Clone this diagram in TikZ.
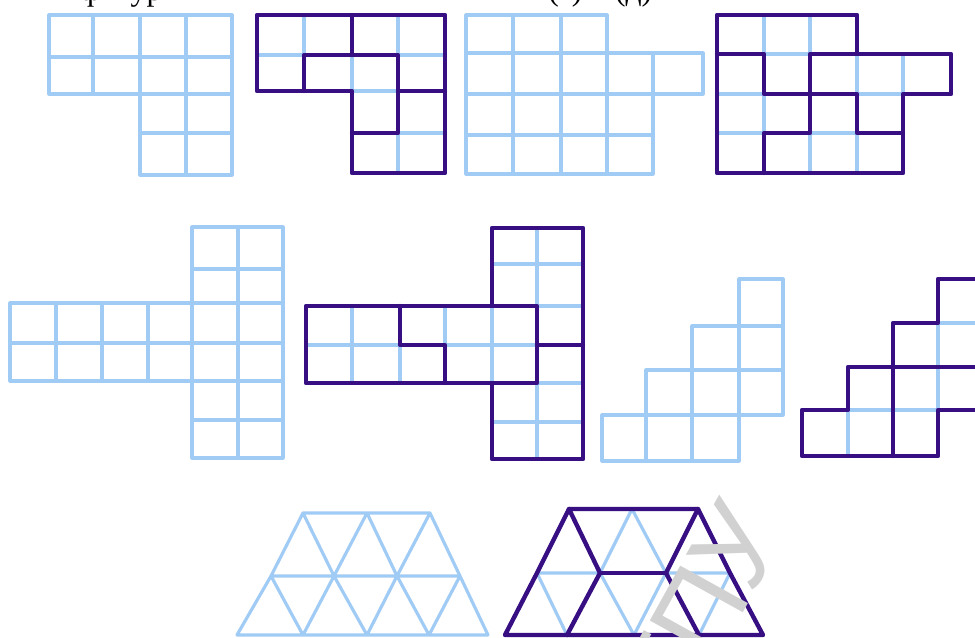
\documentclass[tikz,border=0pt]{standalone}
\usepackage{fontspec}
\setmainfont{Liberation Serif}
\newfontfamily\wmfont{Liberation Sans}

\definecolor{litecol}{RGB}{160,203,245}
\definecolor{darkcol}{RGB}{55,15,130}

\begin{document}
\begin{tikzpicture}[x=0.02cm,y=-0.02cm,
  lite/.style={draw=litecol,line width=1.8pt,line join=round,line cap=round},
  dark/.style={draw=darkcol,line width=2.5pt,line join=round,line cap=round},
  capt/.style={font=\fontsize{18}{20}\selectfont,inner sep=0pt,anchor=base west},
  wmark/.style={font=\wmfont\fontsize{64}{64}\selectfont,text=black!18,rotate=61}
]
\useasboundingbox (0,0) rectangle (975,637);

% grid points of the square figures
\foreach \x [count=\i from 0] in {49,93,140,186,232}
  \foreach \y [count=\j from 0] in {15,57,94,133,175}
    \coordinate (a\i\j) at (\x,\y);
\foreach \x [count=\i from 0] in {257,304,352,398,445}
  \foreach \y [count=\j from 0] in {15,55,91,133,173}
    \coordinate (b\i\j) at (\x,\y);
\foreach \x [count=\i from 0] in {466,513,561,607,653,703}
  \foreach \y [count=\j from 0] in {15,53,94,135,174}
    \coordinate (c\i\j) at (\x,\y);
\foreach \x [count=\i from 0] in {717,764,810,857,903,951}
  \foreach \y [count=\j from 0] in {15,54,94,133,173}
    \coordinate (d\i\j) at (\x,\y);
\foreach \x [count=\i from 0] in {10,56,102,148,192,238,283}
  \foreach \y [count=\j from 0] in {227,269,303,343,381,420,458}
    \coordinate (e\i\j) at (\x,\y);
\foreach \x [count=\i from 0] in {306,352,400,445,492,537,583}
  \foreach \y [count=\j from 0] in {228,264,306,345,383,422,459}
    \coordinate (f\i\j) at (\x,\y);
\foreach \x [count=\i from 0] in {602,646,692,739,783}
  \foreach \y [count=\j from 0] in {279,326,370,415,461}
    \coordinate (g\i\j) at (\x,\y);
\foreach \x [count=\i from 0] in {802,848,893,938,983}
  \foreach \y [count=\j from 0] in {279,323,367,410,456}
    \coordinate (h\i\j) at (\x,\y);

% cells
\foreach \c/\r [evaluate=\c as \cc using int(\c+1), evaluate=\r as \rr using int(\r+1)]
  in {0/0,1/0,2/0,3/0,0/1,1/1,2/1,3/1,2/2,3/2,2/3,3/3}{
  \draw[lite] (a\c\r) rectangle (a\cc\rr);
  \draw[lite] (b\c\r) rectangle (b\cc\rr);
}
\foreach \c/\r [evaluate=\c as \cc using int(\c+1), evaluate=\r as \rr using int(\r+1)]
  in {0/0,1/0,2/0,0/1,1/1,2/1,3/1,4/1,0/2,1/2,2/2,3/2,0/3,1/3,2/3,3/3}{
  \draw[lite] (c\c\r) rectangle (c\cc\rr);
  \draw[lite] (d\c\r) rectangle (d\cc\rr);
}
\foreach \c/\r [evaluate=\c as \cc using int(\c+1), evaluate=\r as \rr using int(\r+1)]
  in {4/0,5/0,4/1,5/1,4/2,5/2,4/3,5/3,4/4,5/4,4/5,5/5,0/2,1/2,2/2,3/2,0/3,1/3,2/3,3/3}{
  \draw[lite] (e\c\r) rectangle (e\cc\rr);
  \draw[lite] (f\c\r) rectangle (f\cc\rr);
}
\foreach \c/\r [evaluate=\c as \cc using int(\c+1), evaluate=\r as \rr using int(\r+1)]
  in {0/3,1/3,2/3,1/2,2/2,3/2,2/1,3/1,3/0}{
  \draw[lite] (g\c\r) rectangle (g\cc\rr);
  \draw[lite] (h\c\r) rectangle (h\cc\rr);
}

% cuts
\draw[dark] (b00) -- (b40) -- (b44) -- (b24) -- (b22) -- (b02) -- cycle;
\draw[dark] (b20) -- (b21);
\draw[dark] (b12) -- (b11) -- (b31) -- (b33) -- (b23);
\draw[dark] (b32) -- (b42);

\draw[dark] (d00) -- (d30) -- (d31) -- (d51) -- (d52) -- (d42) -- (d44) -- (d04) -- cycle;
\draw[dark] (d01) -- (d11) -- (d12) -- (d22) -- (d21) -- (d31);
\draw[dark] (d14) -- (d13) -- (d23) -- (d22) -- (d32) -- (d33) -- (d43);

\draw[dark] (f40) -- (f60) -- (f66) -- (f46) -- (f44) -- (f04) -- (f02) -- (f42) -- cycle;
\draw[dark] (f22) -- (f23) -- (f33) -- (f34);
\draw[dark] (f42) -- (f52) -- (f54) -- (f44);
\draw[dark] (f53) -- (f63);

\draw[dark] (h30) -- (h40) -- (h43) -- (h33) -- (h34) -- (h04) -- (h03) -- (h13) -- (h12) -- (h22) -- (h21) -- (h31) -- cycle;
\draw[dark] (h22) -- (h24);
\draw[dark] (h22) -- (h42);

% triangle figures
\foreach \x [count=\i from 0] in {303,367,430} \coordinate (vT\i) at (\x,513);
\foreach \x [count=\i from 0] in {271,334,397,460} \coordinate (vM\i) at (\x,576);
\foreach \x [count=\i from 0] in {237,303,367,429,488} \coordinate (vB\i) at (\x,635);
\foreach \x [count=\i from 0] in {569,632,698} \coordinate (uT\i) at (\x,509);
\foreach \x [count=\i from 0] in {537,600,666,730} \coordinate (uM\i) at (\x,573);
\foreach \x [count=\i from 0] in {505,567,634,699,763} \coordinate (uB\i) at (\x,635);

\foreach \p in {v,u}{
  \draw[lite] (\p T0) -- (\p T2) (\p M0) -- (\p M3) (\p B0) -- (\p B4)
    (\p B0) -- (\p M0) -- (\p T0) (\p B1) -- (\p M1) -- (\p T1)
    (\p B2) -- (\p M2) -- (\p T2) (\p B3) -- (\p M3)
    (\p M0) -- (\p B1) (\p T0) -- (\p M1) -- (\p B2)
    (\p T1) -- (\p M2) -- (\p B3) (\p T2) -- (\p M3) -- (\p B4);
}
\draw[dark] (uT0) -- (uT2) -- (uM3) -- (uB4) -- (uB0) -- (uM0) -- cycle;
\draw[dark] (uT0) -- (uM1) -- (uB1);
\draw[dark] (uM1) -- (uM2);
\draw[dark] (uT2) -- (uM2) -- (uB3);

% cut-off caption and watermark
\node[capt] (cap1) at (80,0) {фигуры};
\node[capt] (cap2) at (548,0) {(г) и (д)};
\node[wmark] (wm) at (684,640) {БГПУ};
\end{tikzpicture}
\end{document}
